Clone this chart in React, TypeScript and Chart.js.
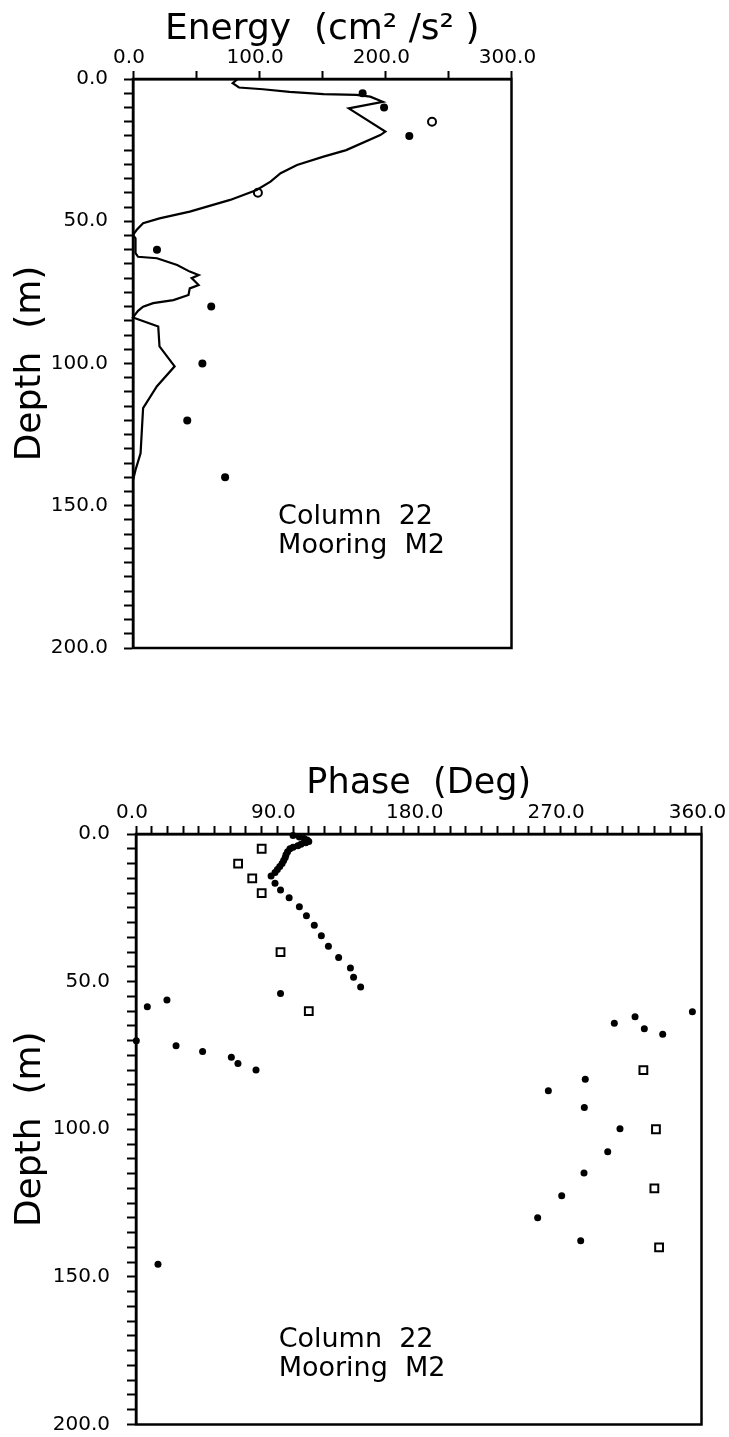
import React, { useEffect, useRef } from 'react';
import { Chart, registerables } from 'chart.js';

Chart.register(...registerables);

// ---------- Energy profile (top panel) ----------
const energyLineDepth = [0, 1.5, 3.0, 3.6, 4.5, 5.3, 5.6, 6.2, 8.0, 10.3, 18.5, 19.7, 25, 27.3, 30.2, 33.1, 36.1, 39, 42.5, 46.6, 49, 50.7, 53, 54.8, 56, 61.2, 62.5, 63, 65.4, 67.7, 68.9, 70, 72.4, 73.6, 75.9, 77.7, 78.8, 80, 81.5, 83.8, 87, 94, 101, 108, 115.7, 131.6, 137.4, 141];
const energyLineValue = [83, 79, 84, 103, 124, 151, 177, 188, 198, 171, 200, 196, 169, 151, 130, 117, 109, 98, 77, 45, 21, 8, 3, 0, 2, 2, 4, 19, 35, 45, 52, 46.5, 52, 45, 44, 32, 16, 8, 4, 0, 20, 21, 33, 19, 8, 6, 2, 0];
const energyObsDepth = [5, 10, 20, 60, 80, 100, 120, 140];
const energyObsValue = [182, 199, 219, 19, 62, 55, 43, 73];
const energyOpenDepth = [15, 40];
const energyOpenValue = [237, 99];
const energyTickLabels = [0, 100, 200, 300];

// ---------- Phase profile (bottom panel) ----------
const phaseDotDepth = [0.5, 1, 1.5, 2, 2.5, 3, 3.5, 4, 4.5, 5, 6, 7, 8, 9, 10, 11, 12, 13, 14.2, 16.7, 19, 21.6, 24.6, 27.7, 30.9, 34.5, 38, 41.8, 45.4, 48.5, 51.8, 54, 56.2, 58.5, 70, 71.7, 73.7, 75.6, 77.7, 79.9, 145.7, 60.2, 61.9, 64.1, 66, 67.8, 83.1, 87, 92.6, 99.8, 107.6, 114.8, 122.5, 130, 137.8];
const phaseDotValue = [100, 104, 107, 109, 110, 108, 105, 103, 100, 98, 96.5, 95.5, 95, 94, 93, 91.5, 90, 88.5, 86, 88.5, 92, 97.5, 104, 108.5, 113.5, 118, 122.5, 129, 136.5, 138.5, 143, 92, 19.7, 7.2, 0.2, 25.5, 42.4, 60.7, 64.9, 76.4, 14, 354.2, 317.7, 304.5, 323.6, 335.3, 286, 262.5, 285.4, 308.1, 300.3, 285.2, 271, 255.7, 283.1];
const phaseSquareDepth = [5, 10, 15, 20, 40, 60, 80, 100, 120, 140];
const phaseSquareValue = [80, 65, 74, 80, 92, 110, 323, 331, 330, 333];
const phaseTickLabels = [0, 90, 180, 270, 360];

const depthTickLabels = [0, 50, 100, 150, 200];
const noteLines = ['Column  22', 'Mooring  M2'];

const FONT = "'DejaVu Sans', 'Liberation Sans', sans-serif";

function pts(xs: number[], ys: number[]) {
  return xs.map((x, i) => ({ x, y: ys[i] }));
}

function fixedAxis(size: number, horizontal: boolean) {
  return (scale: any) => {
    if (horizontal) scale.height = size;
    else scale.width = size;
    scale.paddingLeft = 0;
    scale.paddingRight = 0;
    scale.paddingTop = 0;
    scale.paddingBottom = 0;
  };
}

function labelCb(list: number[]) {
  return (v: any) => (list.includes(Number(v)) ? Number(v).toFixed(1) : '');
}

function framePlugin(noteX: number, noteY: number[]) {
  return {
    id: 'frameAndNote',
    beforeDatasetsDraw(chart: any) {
      const { ctx, chartArea: a } = chart;
      ctx.save();
      ctx.strokeStyle = '#000';
      ctx.lineWidth = 2.5;
      ctx.strokeRect(a.left, a.top, a.right - a.left, a.bottom - a.top);
      ctx.restore();
    },
    afterDatasetsDraw(chart: any) {
      const { ctx, scales } = chart;
      ctx.save();
      ctx.fillStyle = '#000';
      ctx.font = `27px ${FONT}`;
      ctx.textAlign = 'left';
      ctx.textBaseline = 'alphabetic';
      noteLines.forEach((t, i) => {
        ctx.fillText(t, scales.x.getPixelForValue(noteX), scales.y.getPixelForValue(noteY[i]));
      });
      ctx.restore();
    },
  };
}

function makeScales(opts: {
  xMax: number; xStep: number; xLabels: number[]; xTitle: string; xTitleSize: number;
  yWidth: number; yPad: number;
}) {
  return {
    x: {
      type: 'linear',
      position: 'top',
      min: 0,
      max: opts.xMax,
      ticks: {
        stepSize: opts.xStep,
        autoSkip: false,
        maxRotation: 0,
        padding: 1,
        labelOffset: -4,
        color: '#000',
        font: { family: FONT, size: 20 },
        callback: labelCb(opts.xLabels),
      },
      grid: { drawOnChartArea: false, drawTicks: true, tickLength: 8, tickColor: '#000', tickWidth: 2, color: '#000' },
      border: { display: true, color: '#000', width: 2.5 },
      title: {
        display: true,
        text: opts.xTitle,
        color: '#000',
        font: { family: FONT, size: opts.xTitleSize },
        padding: { top: 8, bottom: 0 },
      },
      afterFit: fixedAxis(79, true),
    },
    y: {
      type: 'linear',
      position: 'left',
      reverse: true,
      min: 0,
      max: 200,
      ticks: {
        stepSize: 5,
        autoSkip: false,
        padding: opts.yPad,
        color: '#000',
        font: { family: FONT, size: 20 },
        callback: labelCb(depthTickLabels),
      },
      grid: { drawOnChartArea: false, drawTicks: true, tickLength: 9, tickColor: '#000', tickWidth: 2, color: '#000' },
      border: { display: true, color: '#000', width: 2.5 },
      title: {
        display: true,
        text: 'Depth  (m)',
        color: '#000',
        font: { family: FONT, size: 36 },
        padding: { top: 9, bottom: 0 },
      },
      afterFit: fixedAxis(opts.yWidth, false),
    },
  };
}

export default function App() {
  const topRef = useRef<HTMLCanvasElement>(null);
  const botRef = useRef<HTMLCanvasElement>(null);

  useEffect(() => {
    const top = new Chart(topRef.current as HTMLCanvasElement, {
      type: 'scatter',
      data: {
        datasets: [
          {
            data: pts(energyLineValue, energyLineDepth),
            showLine: true,
            borderColor: '#000',
            borderWidth: 2.2,
            pointRadius: 0,
            tension: 0,
            clip: false,
          },
          {
            data: pts(energyObsValue, energyObsDepth),
            pointRadius: 4,
            backgroundColor: '#000',
            borderWidth: 0,
            clip: false,
          },
          {
            data: pts(energyOpenValue, energyOpenDepth),
            pointRadius: 4,
            backgroundColor: '#fff',
            borderColor: '#000',
            borderWidth: 2,
            clip: false,
          },
        ],
      } as any,
      options: {
        responsive: false,
        animation: false,
        devicePixelRatio: 1,
        layout: { padding: { left: 0, top: 0, right: 217.5, bottom: 52 } },
        plugins: { legend: { display: false }, tooltip: { enabled: false } },
        events: [],
        scales: makeScales({
          xMax: 300, xStep: 50, xLabels: energyTickLabels, xTitle: 'Energy  (cm² /s² )', xTitleSize: 36,
          yWidth: 133, yPad: 16,
        }) as any,
      },
      plugins: [framePlugin(115, [156.5, 166.6])],
    });

    const bot = new Chart(botRef.current as HTMLCanvasElement, {
      type: 'scatter',
      data: {
        datasets: [
          {
            data: pts(phaseDotValue, phaseDotDepth),
            pointRadius: 3.5,
            backgroundColor: '#000',
            borderWidth: 0,
            clip: false,
          },
          {
            data: pts(phaseSquareValue, phaseSquareDepth),
            pointStyle: 'rect',
            pointRadius: 5.5,
            backgroundColor: '#fff',
            borderColor: '#000',
            borderWidth: 2,
            clip: false,
          },
        ],
      } as any,
      options: {
        responsive: false,
        animation: false,
        devicePixelRatio: 1,
        layout: { padding: { left: 0, top: 55, right: 27.5, bottom: 12.5 } },
        plugins: { legend: { display: false }, tooltip: { enabled: false } },
        events: [],
        scales: makeScales({
          xMax: 360, xStep: 10, xLabels: phaseTickLabels, xTitle: 'Phase  (Deg)', xTitleSize: 35,
          yWidth: 136, yPad: 17,
        }) as any,
      },
      plugins: [framePlugin(90.8, [173.8, 183.7])],
    });

    return () => {
      top.destroy();
      bot.destroy();
    };
  }, []);

  return (
    <div style={{ position: 'absolute', left: 0, top: 0, width: 729, height: 1437, background: '#fff' }}>
      <canvas
        ref={topRef}
        width={729}
        height={700}
        style={{ position: 'absolute', left: 0, top: 0, width: 729, height: 700 }}
      />
      <canvas
        ref={botRef}
        width={729}
        height={737}
        style={{ position: 'absolute', left: 0, top: 700, width: 729, height: 737 }}
      />
    </div>
  );
}
